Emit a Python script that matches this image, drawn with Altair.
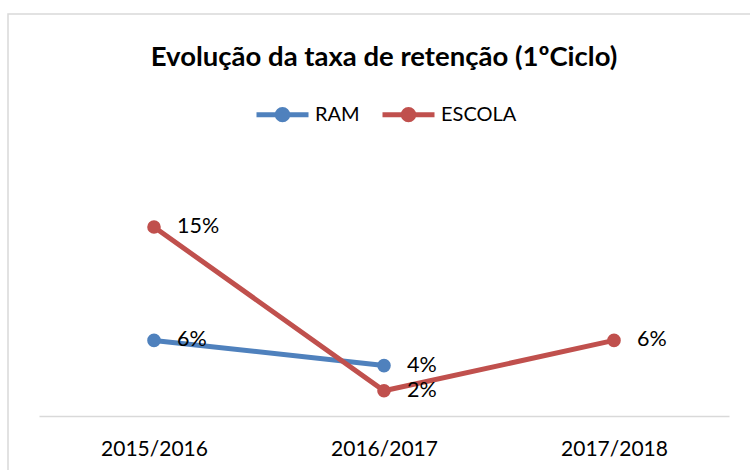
import altair as alt
import pandas as pd

years = ["2015/2016", "2016/2017", "2017/2018"]
ram = [6, 4, None]
escola = [15, 2, 6]
series = ["RAM", "ESCOLA"]
colors = ["#4F81BD", "#C0504D"]

rows = []
for name, vals in zip(series, [ram, escola]):
    for yr, v in zip(years, vals):
        if v is not None:
            rows.append({"ano": yr, "serie": name, "valor": v, "rotulo": f"{v}%"})
df = pd.DataFrame(rows)

FONT = "Lato"
SYM = "M-1,0H1M-0.2,0A0.2,0.2 0 1,0 0.2,0A0.2,0.2 0 1,0 -0.2,0Z"

x = alt.X("ano:N", sort=years, scale=alt.Scale(type="point", padding=0.5),
          axis=alt.Axis(title=None, labelAngle=0, ticks=False, grid=False,
                        domainColor="#d9d9d9", domainWidth=1.5, labelFontSize=21,
                        labelColor="black", labelPadding=22, labelFont=FONT))
y = alt.Y("valor:Q", scale=alt.Scale(domain=[0, 20]), axis=None)
color = alt.Color("serie:N", scale=alt.Scale(domain=series, range=colors), sort=series,
                  legend=alt.Legend(title=None, orient="none", legendX=215, legendY=-78,
                                    direction="horizontal", symbolType=SYM, symbolSize=2704,
                                    symbolStrokeWidth=5, labelFontSize=20, labelFont=FONT,
                                    labelColor="black", labelOffset=4, columnPadding=12,
                                    padding=0, symbolOpacity=1))

base = alt.Chart(df).encode(x=x, y=y, color=color)
layers = []
for s in series:
    b = base.transform_filter(alt.datum.serie == s)
    layers.append(b.mark_line(strokeWidth=5))
    layers.append(b.mark_circle(size=185, opacity=1))

labels = alt.Chart(df).mark_text(align="left", baseline="middle", dx=23, fontSize=21.5,
                                 font=FONT, color="black").encode(x=x, y=y, text="rotulo:N")

border = alt.Chart(alt.Data(values=[{}])).mark_rect(
    fill="transparent", stroke="#d9d9d9", strokeWidth=1.5
).encode(x=alt.value(-31), x2=alt.value(730), y=alt.value(-150), y2=alt.value(330))

chart = alt.layer(border, *layers, labels).properties(
    width=690, height=252,
    title=alt.TitleParams("Evolução da taxa de retenção (1ºCiclo)", fontSize=27.5, font=FONT,
                          fontWeight="bold", anchor="middle", color="black", offset=-58,
                          frame="group"),
    autosize=alt.AutoSizeParams(type="none"),
    padding={"left": 39, "top": 164, "right": 21, "bottom": 54},
).configure_view(stroke=None)

chart.save("out.html", embed_options={"renderer": "svg", "actions": False})
